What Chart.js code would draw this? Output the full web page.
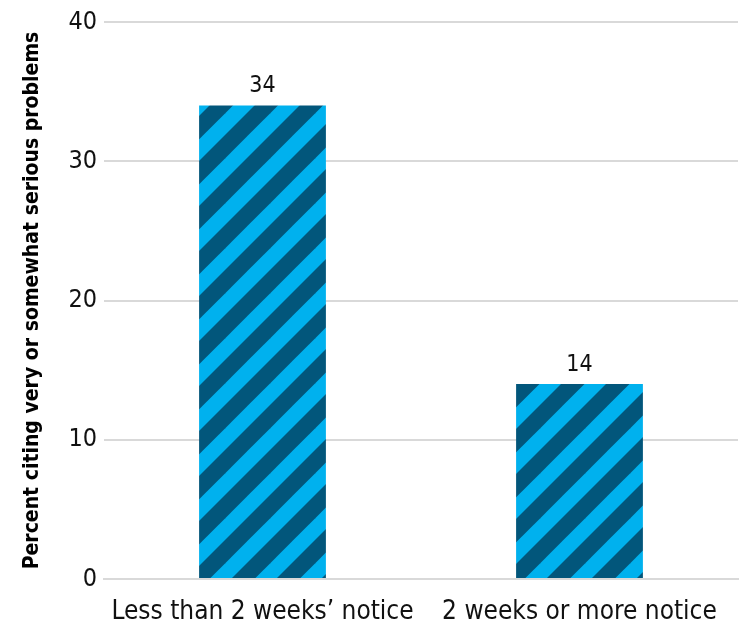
<!DOCTYPE html>
<html>
<head>
<meta charset="utf-8">
<script src="https://cdn.jsdelivr.net/npm/chart.js@4/dist/chart.umd.min.js"></script>
<style>
  html, body { margin: 0; padding: 0; background: #ffffff; }
  #wrap { width: 743px; height: 625px; position: relative; }
</style>
</head>
<body>
<div id="wrap"><canvas id="c" width="743" height="625"></canvas></div>
<script>
// Survey result: share citing very or somewhat serious problems, by notice given
const categories = ["Less than 2 weeks\u2019 notice", "2 weeks or more notice"];
const percentValues = [34, 14];
const yTicks = [0, 10, 20, 30, 40];
const yTitle = "Percent citing very or somewhat serious problems";

const FONT = "'DejaVu Sans Condensed', 'Liberation Sans', sans-serif";
const LIGHT = "#00b1ee";
const DARK = "#02567b";

// Diagonal stripe fill (rising left to right)
function stripePattern(ctx) {
  const size = 45;
  const pc = document.createElement("canvas");
  pc.width = size; pc.height = size;
  const p = pc.getContext("2d");
  p.fillStyle = LIGHT;
  p.fillRect(0, 0, size, size);
  p.fillStyle = DARK;
  const w = size * 0.52;
  for (let k = -1; k <= 1; k++) {
    const o = k * size;
    p.beginPath();
    p.moveTo(o, size);
    p.lineTo(o + w, size);
    p.lineTo(o + w + size, 0);
    p.lineTo(o + size, 0);
    p.closePath();
    p.fill();
  }
  return ctx.createPattern(pc, "repeat");
}

// Value labels above each bar
const valueLabels = {
  id: "valueLabels",
  afterDatasetsDraw(chart) {
    const { ctx } = chart;
    const meta = chart.getDatasetMeta(0);
    ctx.save();
    ctx.font = "23px " + FONT;
    ctx.fillStyle = "#111111";
    ctx.textAlign = "center";
    ctx.textBaseline = "bottom";
    meta.data.forEach((bar, i) => {
      ctx.fillText(String(chart.data.datasets[0].data[i]), bar.x, bar.y - 8);
    });
    ctx.restore();
  }
};

const canvas = document.getElementById("c");
const ctx = canvas.getContext("2d");

new Chart(ctx, {
  type: "bar",
  data: {
    labels: categories,
    datasets: [{
      data: percentValues,
      backgroundColor: stripePattern(ctx),
      borderWidth: 0,
      categoryPercentage: 1.0,
      barPercentage: 0.4
    }]
  },
  options: {
    responsive: false,
    animation: false,
    devicePixelRatio: 1,
    layout: { padding: { left: 20, right: 5, top: 19, bottom: 0 } },
    plugins: {
      legend: { display: false },
      tooltip: { enabled: false }
    },
    scales: {
      x: {
        grid: { display: false },
        border: { display: true, color: "#d9d9d9", width: 2 },
        ticks: {
          color: "#111111",
          font: { family: FONT, size: 26 },
          padding: 10,
          maxRotation: 0,
          autoSkip: false
        },
        afterFit(scale) { scale.height = 46; }
      },
      y: {
        min: 0,
        max: 40,
        afterBuildTicks(scale) { scale.ticks = yTicks.map(v => ({ value: v })); },
        grid: { color: "#d9d9d9", lineWidth: 2, drawTicks: false },
        border: { display: false },
        ticks: {
          color: "#111111",
          font: { family: FONT, size: 25 },
          padding: 7
        },
        title: {
          display: true,
          text: yTitle,
          color: "#000000",
          font: { family: FONT, size: 21, weight: "bold" },
          padding: { top: 0, bottom: 0 }
        },
        afterFit(scale) { scale.width = 84; }
      }
    }
  },
  plugins: [valueLabels]
});
</script>
</body>
</html>
